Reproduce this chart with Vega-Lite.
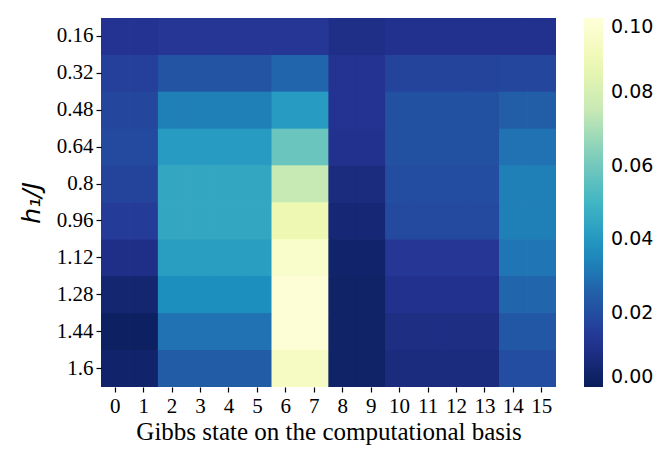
{
  "$schema": "https://vega.github.io/schema/vega-lite/v6.json",
  "width": 455,
  "height": 369,
  "autosize": {"type": "none"},
  "padding": {"left": 101, "top": 18, "right": 114, "bottom": 64},
  "background": "white",
  "config": {"view": {"stroke": null}},
  "datasets": {
    "cells": [
      {"s":0,"h":0.16,"v":0.012},{"s":1,"h":0.16,"v":0.012},{"s":2,"h":0.16,"v":0.013},{"s":3,"h":0.16,"v":0.013},{"s":4,"h":0.16,"v":0.013},{"s":5,"h":0.16,"v":0.013},{"s":6,"h":0.16,"v":0.013},{"s":7,"h":0.16,"v":0.013},{"s":8,"h":0.16,"v":0.010},{"s":9,"h":0.16,"v":0.010},{"s":10,"h":0.16,"v":0.011},{"s":11,"h":0.16,"v":0.011},{"s":12,"h":0.16,"v":0.011},{"s":13,"h":0.16,"v":0.011},{"s":14,"h":0.16,"v":0.011},{"s":15,"h":0.16,"v":0.011},
      {"s":0,"h":0.32,"v":0.016},{"s":1,"h":0.32,"v":0.016},{"s":2,"h":0.32,"v":0.022},{"s":3,"h":0.32,"v":0.022},{"s":4,"h":0.32,"v":0.022},{"s":5,"h":0.32,"v":0.022},{"s":6,"h":0.32,"v":0.027},{"s":7,"h":0.32,"v":0.027},{"s":8,"h":0.32,"v":0.012},{"s":9,"h":0.32,"v":0.012},{"s":10,"h":0.32,"v":0.017},{"s":11,"h":0.32,"v":0.017},{"s":12,"h":0.32,"v":0.017},{"s":13,"h":0.32,"v":0.017},{"s":14,"h":0.32,"v":0.018},{"s":15,"h":0.32,"v":0.018},
      {"s":0,"h":0.48,"v":0.018},{"s":1,"h":0.48,"v":0.018},{"s":2,"h":0.48,"v":0.033},{"s":3,"h":0.48,"v":0.033},{"s":4,"h":0.48,"v":0.033},{"s":5,"h":0.48,"v":0.033},{"s":6,"h":0.48,"v":0.041},{"s":7,"h":0.48,"v":0.041},{"s":8,"h":0.48,"v":0.012},{"s":9,"h":0.48,"v":0.012},{"s":10,"h":0.48,"v":0.021},{"s":11,"h":0.48,"v":0.021},{"s":12,"h":0.48,"v":0.021},{"s":13,"h":0.48,"v":0.021},{"s":14,"h":0.48,"v":0.025},{"s":15,"h":0.48,"v":0.025},
      {"s":0,"h":0.64,"v":0.019},{"s":1,"h":0.64,"v":0.019},{"s":2,"h":0.64,"v":0.041},{"s":3,"h":0.64,"v":0.041},{"s":4,"h":0.64,"v":0.041},{"s":5,"h":0.64,"v":0.041},{"s":6,"h":0.64,"v":0.058},{"s":7,"h":0.64,"v":0.058},{"s":8,"h":0.64,"v":0.011},{"s":9,"h":0.64,"v":0.011},{"s":10,"h":0.64,"v":0.021},{"s":11,"h":0.64,"v":0.021},{"s":12,"h":0.64,"v":0.021},{"s":13,"h":0.64,"v":0.021},{"s":14,"h":0.64,"v":0.030},{"s":15,"h":0.64,"v":0.030},
      {"s":0,"h":0.8,"v":0.017},{"s":1,"h":0.8,"v":0.017},{"s":2,"h":0.8,"v":0.045},{"s":3,"h":0.8,"v":0.045},{"s":4,"h":0.8,"v":0.045},{"s":5,"h":0.8,"v":0.045},{"s":6,"h":0.8,"v":0.075},{"s":7,"h":0.8,"v":0.075},{"s":8,"h":0.8,"v":0.008},{"s":9,"h":0.8,"v":0.008},{"s":10,"h":0.8,"v":0.020},{"s":11,"h":0.8,"v":0.020},{"s":12,"h":0.8,"v":0.020},{"s":13,"h":0.8,"v":0.020},{"s":14,"h":0.8,"v":0.033},{"s":15,"h":0.8,"v":0.033},
      {"s":0,"h":0.96,"v":0.015},{"s":1,"h":0.96,"v":0.015},{"s":2,"h":0.96,"v":0.045},{"s":3,"h":0.96,"v":0.045},{"s":4,"h":0.96,"v":0.045},{"s":5,"h":0.96,"v":0.045},{"s":6,"h":0.96,"v":0.088},{"s":7,"h":0.96,"v":0.088},{"s":8,"h":0.96,"v":0.006},{"s":9,"h":0.96,"v":0.006},{"s":10,"h":0.96,"v":0.019},{"s":11,"h":0.96,"v":0.019},{"s":12,"h":0.96,"v":0.019},{"s":13,"h":0.96,"v":0.019},{"s":14,"h":0.96,"v":0.033},{"s":15,"h":0.96,"v":0.033},
      {"s":0,"h":1.12,"v":0.010},{"s":1,"h":1.12,"v":0.010},{"s":2,"h":1.12,"v":0.042},{"s":3,"h":1.12,"v":0.042},{"s":4,"h":1.12,"v":0.042},{"s":5,"h":1.12,"v":0.042},{"s":6,"h":1.12,"v":0.096},{"s":7,"h":1.12,"v":0.096},{"s":8,"h":1.12,"v":0.004},{"s":9,"h":1.12,"v":0.004},{"s":10,"h":1.12,"v":0.013},{"s":11,"h":1.12,"v":0.013},{"s":12,"h":1.12,"v":0.013},{"s":13,"h":1.12,"v":0.013},{"s":14,"h":1.12,"v":0.031},{"s":15,"h":1.12,"v":0.031},
      {"s":0,"h":1.28,"v":0.005},{"s":1,"h":1.28,"v":0.005},{"s":2,"h":1.28,"v":0.037},{"s":3,"h":1.28,"v":0.037},{"s":4,"h":1.28,"v":0.037},{"s":5,"h":1.28,"v":0.037},{"s":6,"h":1.28,"v":0.099},{"s":7,"h":1.28,"v":0.099},{"s":8,"h":1.28,"v":0.003},{"s":9,"h":1.28,"v":0.003},{"s":10,"h":1.28,"v":0.011},{"s":11,"h":1.28,"v":0.011},{"s":12,"h":1.28,"v":0.011},{"s":13,"h":1.28,"v":0.011},{"s":14,"h":1.28,"v":0.027},{"s":15,"h":1.28,"v":0.027},
      {"s":0,"h":1.44,"v":0.002},{"s":1,"h":1.44,"v":0.002},{"s":2,"h":1.44,"v":0.030},{"s":3,"h":1.44,"v":0.030},{"s":4,"h":1.44,"v":0.030},{"s":5,"h":1.44,"v":0.030},{"s":6,"h":1.44,"v":0.099},{"s":7,"h":1.44,"v":0.099},{"s":8,"h":1.44,"v":0.003},{"s":9,"h":1.44,"v":0.003},{"s":10,"h":1.44,"v":0.009},{"s":11,"h":1.44,"v":0.009},{"s":12,"h":1.44,"v":0.009},{"s":13,"h":1.44,"v":0.009},{"s":14,"h":1.44,"v":0.023},{"s":15,"h":1.44,"v":0.023},
      {"s":0,"h":1.6,"v":0.004},{"s":1,"h":1.6,"v":0.004},{"s":2,"h":1.6,"v":0.024},{"s":3,"h":1.6,"v":0.024},{"s":4,"h":1.6,"v":0.024},{"s":5,"h":1.6,"v":0.024},{"s":6,"h":1.6,"v":0.093},{"s":7,"h":1.6,"v":0.093},{"s":8,"h":1.6,"v":0.003},{"s":9,"h":1.6,"v":0.003},{"s":10,"h":1.6,"v":0.008},{"s":11,"h":1.6,"v":0.008},{"s":12,"h":1.6,"v":0.008},{"s":13,"h":1.6,"v":0.008},{"s":14,"h":1.6,"v":0.020},{"s":15,"h":1.6,"v":0.020}
    ]
  },
  "data": {"name": "cells"},
  "encoding": {
    "x": {
      "field": "s", "type": "ordinal",
      "scale": {"paddingInner": 0, "paddingOuter": 0},
      "axis": {
        "title": "Gibbs state on the computational basis",
        "labelAngle": 0, "labelFont": "Liberation Serif", "labelFontSize": 21, "labelColor": "#000",
        "titleFont": "Liberation Serif", "titleFontSize": 25, "titleFontWeight": "normal", "titleColor": "#000",
        "domain": false, "tickColor": "#000", "tickSize": 5, "tickWidth": 1.2, "labelPadding": 3, "titlePadding": 3
      }
    },
    "y": {
      "field": "h", "type": "ordinal",
      "scale": {"paddingInner": 0, "paddingOuter": 0},
      "axis": {
        "title": "h₁/J",
        "labelFont": "Liberation Serif", "labelFontSize": 21, "labelColor": "#000",
        "titleFont": "DejaVu Sans", "titleFontStyle": "italic", "titleFontSize": 25, "titleFontWeight": "normal", "titleColor": "#000",
        "domain": false, "tickColor": "#000", "tickSize": 5, "tickWidth": 1.2, "labelPadding": 3, "titlePadding": 12
      }
    },
    "color": {
      "field": "v", "type": "quantitative",
      "scale": {
        "type": "linear",
        "domain": [0, 0.1],
        "range": ["#081d58", "#253494", "#225ea8", "#1d91c0", "#41b6c4", "#7fcdbb", "#c7e9b4", "#edf8b1", "#ffffd9"],
        "interpolate": "rgb"
      },
      "legend": {
        "type": "gradient",
        "orient": "none", "legendX": 483, "legendY": 0, "padding": 0, "direction": "vertical",
        "title": null, "gradientLength": 369, "gradientThickness": 19, "gradientStrokeWidth": 0,
        "values": [0, 0.02, 0.04, 0.06, 0.08, 0.1], "format": ".2f",
        "labelFont": "DejaVu Sans", "labelFontSize": 19, "labelColor": "#000", "labelOffset": 8, "labelOverlap": false
      }
    }
  },
  "layer": [
    {"mark": {"type": "rect", "strokeWidth": 0}},
    {"mark": {"type": "rect", "strokeWidth": 0}},
    {"mark": {"type": "rect", "strokeWidth": 0}}
  ]
}
